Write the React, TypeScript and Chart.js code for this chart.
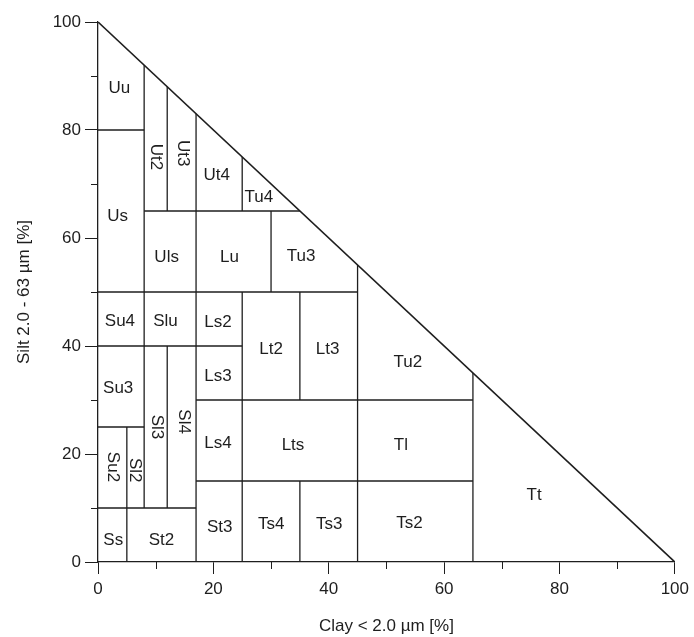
import React, { useEffect, useRef } from 'react';
import { Chart, registerables } from 'chart.js';

Chart.register(...registerables);

// Horizontal class boundaries: silt value, clay start, clay end
const hLineY = [10, 25, 80, 40, 50, 65, 30, 15];
const hLineX1 = [0, 0, 0, 0, 0, 8, 17, 17];
const hLineX2 = [17, 8, 8, 25, 45, 35, 65, 65];

// Vertical class boundaries: clay value, silt start, silt end
const vLineX = [5, 8, 12, 12, 17, 25, 25, 30, 35, 35, 45, 65];
const vLineY1 = [0, 10, 10, 65, 0, 0, 65, 50, 0, 30, 0, 0];
const vLineY2 = [25, 92, 40, 88, 83, 50, 75, 65, 15, 50, 55, 35];

// Triangle hypotenuse (clay, silt)
const edgeClay = [0, 100];
const edgeSilt = [100, 0];

// Class labels
const labelText = ['Uu', 'Us', 'Ut2', 'Ut3', 'Ut4', 'Tu4', 'Uls', 'Lu', 'Tu3', 'Su4', 'Slu', 'Ls2', 'Lt2', 'Lt3', 'Tu2', 'Ls3', 'Su3', 'Sl3', 'Sl4', 'Ls4', 'Lts', 'Tl', 'Su2', 'Sl2', 'Tt', 'St3', 'Ts4', 'Ts3', 'Ts2', 'Ss', 'St2'];
const labelClay = [3.7, 3.4, 10.0, 14.7, 20.6, 27.9, 11.9, 22.8, 35.2, 3.8, 11.7, 20.8, 30.0, 39.8, 53.7, 20.8, 3.5, 10.1, 14.8, 20.8, 33.8, 52.5, 2.5, 6.4, 75.6, 21.1, 30.05, 40.1, 54.0, 2.65, 11.0];
const labelSilt = [87.8, 64.0, 75.0, 75.7, 71.7, 67.6, 56.5, 56.5, 56.7, 44.5, 44.5, 44.3, 39.3, 39.3, 37.0, 34.3, 32.2, 25.0, 26.0, 22.0, 21.7, 21.7, 17.6, 17.0, 12.4, 6.5, 6.9, 6.9, 7.2, 4.1, 4.1];
const labelRotated = ['Ut2', 'Ut3', 'Sl3', 'Sl4', 'Su2', 'Sl2'];

const minorTicks = [10, 30, 50, 70, 90];

const FONT = '"Liberation Sans", Arial, sans-serif';
const INK = '#1e1e1e';

export default function App() {
  const canvasRef = useRef<HTMLCanvasElement | null>(null);

  useEffect(() => {
    const canvas = canvasRef.current;
    if (!canvas) return;

    const datasets: any[] = [];
    hLineY.forEach((y, i) => {
      datasets.push({
        data: [{ x: hLineX1[i], y }, { x: hLineX2[i], y }],
        showLine: true, pointRadius: 0, borderColor: INK, borderWidth: 1.3,
      });
    });
    vLineX.forEach((x, i) => {
      datasets.push({
        data: [{ x, y: vLineY1[i] }, { x, y: vLineY2[i] }],
        showLine: true, pointRadius: 0, borderColor: INK, borderWidth: 1.3,
      });
    });
    datasets.push({
      data: edgeClay.map((c, i) => ({ x: c, y: edgeSilt[i] })),
      showLine: true, pointRadius: 0, borderColor: INK, borderWidth: 1.6,
    });

    const labelPlugin = {
      id: 'classLabels',
      afterDraw(chart: any) {
        const ctx = chart.ctx;
        const xs = chart.scales.x;
        const ys = chart.scales.y;
        ctx.save();
        // minor ticks
        ctx.strokeStyle = INK;
        ctx.lineWidth = 1;
        minorTicks.forEach((v) => {
          const px = Math.round(xs.getPixelForValue(v)) + 0.5;
          ctx.beginPath();
          ctx.moveTo(px, ys.bottom);
          ctx.lineTo(px, ys.bottom + 7);
          ctx.stroke();
          const py = Math.round(ys.getPixelForValue(v)) + 0.5;
          ctx.beginPath();
          ctx.moveTo(xs.left - 7, py);
          ctx.lineTo(xs.left, py);
          ctx.stroke();
        });
        // labels
        ctx.fillStyle = INK;
        ctx.font = `17px ${FONT}`;
        ctx.textAlign = 'center';
        ctx.textBaseline = 'middle';
        labelText.forEach((t, i) => {
          const px = xs.getPixelForValue(labelClay[i]);
          const py = ys.getPixelForValue(labelSilt[i]);
          if (labelRotated.includes(t)) {
            ctx.save();
            ctx.translate(px, py);
            ctx.rotate(Math.PI / 2);
            ctx.fillText(t, 0, 0);
            ctx.restore();
          } else {
            ctx.fillText(t, px, py);
          }
        });
        ctx.restore();
      },
    };

    const tickCb = (v: any) => (Number(v) % 20 === 0 ? String(v) : '');
    const tickCol = (c: any) => (c.tick && Number(c.tick.value) % 20 === 0 ? INK : 'rgba(0,0,0,0)');

    const chart = new Chart(canvas, {
      type: 'scatter',
      data: { datasets },
      options: {
        animation: false,
        responsive: false,
        maintainAspectRatio: false,
        layout: { padding: { left: 0, right: 18, top: 22, bottom: 0 } },
        plugins: { legend: { display: false }, tooltip: { enabled: false } },
        scales: {
          x: {
            type: 'linear', min: 0, max: 100,
            afterFit: (s: any) => { s.height = 75; },
            border: { display: true, color: INK, width: 1.3 },
            grid: { drawOnChartArea: false, drawTicks: true, tickLength: 12, tickColor: tickCol, tickWidth: 1 },
            ticks: { stepSize: 10, autoSkip: false, maxRotation: 0, padding: 5, color: INK, font: { family: FONT, size: 17 }, callback: tickCb },
            title: { display: true, text: 'Clay < 2.0 µm [%]', color: INK, font: { family: FONT, size: 17 }, padding: { top: 0, bottom: 0 } },
          },
          y: {
            type: 'linear', min: 0, max: 100,
            afterFit: (s: any) => { s.width = 98; },
            border: { display: true, color: INK, width: 1.3 },
            grid: { drawOnChartArea: false, drawTicks: true, tickLength: 13, tickColor: tickCol, tickWidth: 1 },
            ticks: { stepSize: 10, autoSkip: false, padding: 4, color: INK, font: { family: FONT, size: 17 }, callback: tickCb },
            title: { display: true, text: 'Silt 2.0 - 63 µm [%]', color: INK, font: { family: FONT, size: 17 }, padding: { top: 14, bottom: 0 } },
          },
        },
      },
      plugins: [labelPlugin],
    });

    return () => chart.destroy();
  }, []);

  return (
    <div style={{ position: 'fixed', left: 0, top: 0, width: 694, height: 637, background: '#fff' }}>
      <canvas ref={canvasRef} width={694} height={637} style={{ display: 'block', width: 694, height: 637 }} />
    </div>
  );
}
